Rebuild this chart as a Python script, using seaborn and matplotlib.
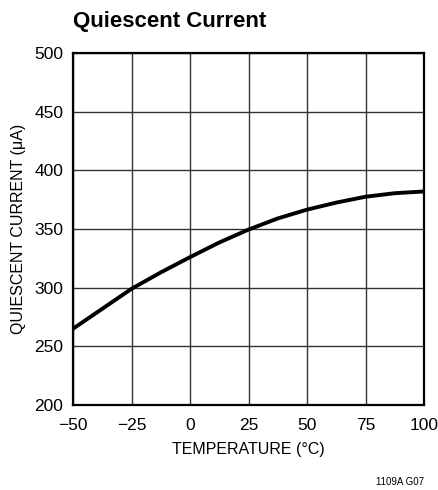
import matplotlib
matplotlib.use("Agg")
import matplotlib.pyplot as plt
import seaborn as sns
import pandas as pd

temperature = [-50, -37.5, -25, -12.5, 0, 12.5, 25, 37.5, 50, 62.5, 75, 87.5, 100]
current_uA = [265, 282, 299, 313, 326, 338.5, 349.5, 359, 366.5, 372.5, 377.5, 380.5, 382]
x_ticks = [-50, -25, 0, 25, 50, 75, 100]
x_tick_labels = ["\u221250", "\u221225", "0", "25", "50", "75", "100"]
y_ticks = [200, 250, 300, 350, 400, 450, 500]

sns.set_theme(style="white")
plt.rcParams['font.family'] = ['Liberation Sans', 'DejaVu Sans']

df = pd.DataFrame({"T": temperature, "I": current_uA})

fig = plt.figure(figsize=(4.38, 4.90), dpi=100)
ax = fig.add_axes([73/438, 85/490, 351/438, 352/490])
ax.set_xlim(-50, 100)
ax.set_ylim(200, 500)
ax.set_xticks(x_ticks)
ax.set_xticklabels(x_tick_labels)
ax.set_yticks(y_ticks)
ax.grid(True, color="#333333", linewidth=1.0)
ax.set_axisbelow(True)
sns.lineplot(data=df, x="T", y="I", ax=ax, color="black", linewidth=2.8, zorder=3)
for s in ax.spines.values():
    s.set_color("black")
    s.set_linewidth(1.6)
ax.tick_params(axis="both", length=0, labelsize=12.5, colors="black")
ax.tick_params(axis="x", pad=9)
ax.tick_params(axis="y", pad=7)
ax.set_xlabel("TEMPERATURE (\u00b0C)", fontsize=11.5, color="black", labelpad=7)
ax.set_ylabel("QUIESCENT CURRENT (\u03bcA)", fontsize=11.5, color="black", labelpad=6)
fig.text(73/438, 1 - 22/490, "Quiescent Current", fontsize=16, fontweight="bold",
         ha="left", va="center", color="black")
fig.text(424/438, 1 - 482/490, "1109A G07", fontsize=7, ha="right", va="center", color="black")
fig.savefig("out.png", dpi=100)
